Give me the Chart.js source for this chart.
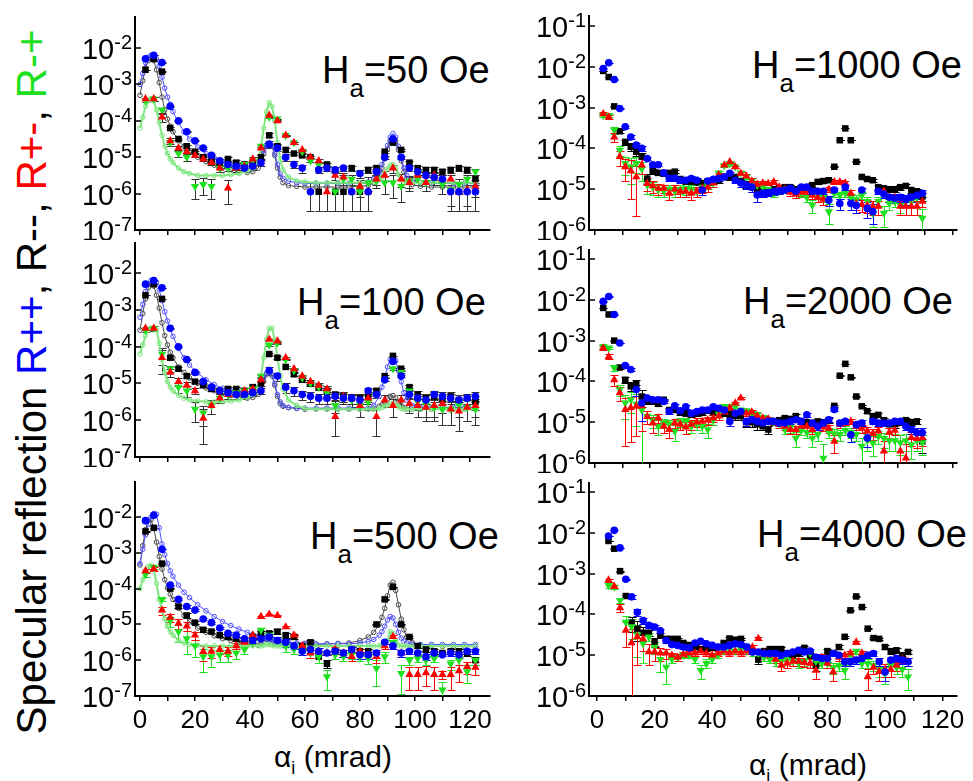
<!DOCTYPE html>
<html>
<head>
<meta charset="utf-8">
<title>Specular reflection</title>
<script src="https://cdn.jsdelivr.net/npm/chart.js@4.4.1/dist/chart.umd.min.js"></script>
<style>
  html, body { margin: 0; padding: 0; background: #fff; }
  body { position: relative; width: 973px; height: 781px; overflow: hidden;
         font-family: "Liberation Sans", Arial, Helvetica, sans-serif; color: #000; }
  canvas { position: absolute; }
  .field { position: absolute; font-size: 38px; line-height: 1; white-space: nowrap; }
  .field sub { font-size: 26px; vertical-align: -14px; line-height: 0; }
  .xtitle { position: absolute; font-size: 30px; line-height: 1; white-space: nowrap; transform: translate(-50%, -50%); }
  .xtitle sub { font-size: 18px; vertical-align: -7px; line-height: 0; }
  #ytitle { position: absolute; left: 32px; top: 382px; font-size: 42px; line-height: 1; white-space: nowrap;
            transform: translate(-50%, -50%) rotate(-90deg); }
  .pp { color: #0000ff; } .pm { color: #ff0000; } .mp { color: #1fe01f; }
</style>
</head>
<body>

<div id="ytitle">Specular reflection <span class="pp">R++</span>, R--, <span class="pm">R+-</span>, <span class="mp">R-+</span></div>

<div class="field" style="left:322px;top:51px">H<sub>a</sub>=50 Oe</div>
<div class="field" style="left:297px;top:283px">H<sub>a</sub>=100 Oe</div>
<div class="field" style="left:310px;top:517px">H<sub>a</sub>=500 Oe</div>
<div class="field" style="left:752px;top:46px">H<sub>a</sub>=1000 Oe</div>
<div class="field" style="left:743px;top:282px">H<sub>a</sub>=2000 Oe</div>
<div class="field" style="left:757px;top:515px">H<sub>a</sub>=4000 Oe</div>

<div class="xtitle" style="left:333px;top:757px">&alpha;<sub>i</sub> (mrad)</div>
<div class="xtitle" style="left:808px;top:765px">&alpha;<sub>i</sub> (mrad)</div>

<script>
// incidence angles (mrad)
const leftX = [2,5,8,11,14,17,20,23,26,29,32,35,38,41,44,47,50,53,56,59,62,65,68,71,74,77,80,83,86,89,92,95,98,101,104,107,110,113,116,119,122];
const fitX = [0,1,2,3,4,5,6,7,8,9,10,11,12,14,16,18,21,24,27,30,33,36,39,41,43,44,45,46,47,48,49,50,51,52,54,57,60,64,68,72,76,80,83,85,87,88,89,90,91,92,93,94,95,96,97,99,102,106,110,114,118,122];
const rightX = [3,5,7,9,11,13,15,17,19,21,23,25,27,29,31,33,35,37,39,41,43,45,47,49,51,53,55,57,59,61,63,65,67,69,71,73,75,77,79,81,83,85,87,89,91,93,95,97,99,101,103,105,107,109,111,113,115,117,119];
const lowRightX = [4,6,8,10,12,14,16,18,20,22,24,26,28,30,32,34,36,38,40,42,44,46,48,50,52,54,56,58,60,62,64,66,68,70,72,74,76,78,80,82,84,86,88,90,92,94,96,98,100,102,104,106,108];

const leftDecades = [1e-7, 1e-6, 1e-5, 1e-4, 1e-3, 1e-2];
const rightDecades = [1e-6, 1e-5, 1e-4, 1e-3, 1e-2, 1e-1];

// all reflectivities and errors below are log10 values

// Ha = 50 Oe
const pp50 = [-2.3,-2.2,-2.4,-3.6,-4.0,-4.3,-4.55,-4.75,-4.95,-5.1,-5.2,-5.25,-5.3,-5.25,-5.15,-4.65,-4.75,-5.0,-5.2,-5.3,-5.95,-5.35,-5.3,-5.35,-5.3,-5.95,-5.45,-5.95,-5.4,-5.0,-4.5,-5.0,-5.3,-5.4,-5.5,-5.55,-5.6,-5.95,-5.95,-5.95,-5.95];
const mm50 = [-2.6,-2.3,-2.65,-4.2,-4.5,-4.7,-4.85,-5.0,-5.1,-5.2,-5.05,-5.15,-5.2,-5.15,-5.0,-4.4,-4.7,-4.8,-4.9,-4.95,-5.0,-5.95,-5.2,-5.95,-5.95,-5.3,-5.95,-5.35,-5.3,-4.85,-4.6,-4.8,-5.15,-5.3,-5.35,-5.35,-5.4,-5.35,-5.3,-5.35,-5.6];
const pm50 = [-3.4,-3.4,-3.9,-4.55,-4.75,-4.85,-4.95,-5.05,-5.15,-5.3,-5.85,-5.3,-5.25,-5.05,-4.75,-3.85,-4.0,-4.4,-4.6,-4.8,-5.0,-5.1,-5.95,-5.5,-5.55,-5.95,-5.8,-5.95,-5.6,-5.5,-5.3,-5.6,-5.7,-5.5,-5.7,-5.5,-5.6,-5.6,-5.95,-5.9,-5.8];
const mp50 = [-3.45,-3.4,-3.7,-4.6,-4.9,-5.0,-5.8,-5.75,-5.8,-5.3,-5.3,-5.25,-5.2,-5.1,-4.7,-3.9,-3.95,-4.4,-4.6,-4.85,-5.1,-5.2,-5.3,-5.95,-5.6,-5.6,-5.95,-5.7,-5.65,-5.7,-5.7,-5.8,-5.65,-5.6,-5.7,-5.6,-5.75,-5.9,-5.75,-5.6,-5.4];
const err50 = [-4.5,-4.3,-4.5,-5.3,-5.6,-5.7,-6.05,-6.05,-6.05,-5.95,-6.05,-5.95,-5.95,-5.95,-5.9,-5.3,-5.5,-5.7,-5.85,-5.9,-6.1,-6.1,-6.1,-6.1,-6.1,-6.1,-6.1,-6.1,-6.1,-6.0,-5.9,-6.0,-6.1,-6.1,-6.1,-6.1,-6.1,-6.1,-6.1,-6.1,-6.1];
const fitMM50 = [-3.3,-2.9,-2.55,-2.35,-2.3,-2.35,-2.6,-2.95,-3.35,-3.7,-3.95,-4.15,-4.3,-4.55,-4.7,-4.85,-5.0,-5.12,-5.22,-5.3,-5.35,-5.4,-5.42,-5.4,-5.3,-5.15,-4.9,-4.68,-4.6,-4.7,-4.95,-5.3,-5.55,-5.7,-5.78,-5.8,-5.82,-5.82,-5.82,-5.82,-5.82,-5.8,-5.78,-5.7,-5.5,-5.3,-5.05,-4.78,-4.55,-4.45,-4.55,-4.8,-5.1,-5.4,-5.6,-5.75,-5.8,-5.82,-5.82,-5.82,-5.82,-5.82];
const fitPP50 = [-3.0,-2.7,-2.4,-2.25,-2.2,-2.2,-2.3,-2.5,-2.8,-3.1,-3.35,-3.55,-3.75,-4.05,-4.3,-4.5,-4.72,-4.9,-5.02,-5.12,-5.2,-5.25,-5.28,-5.25,-5.15,-5.0,-4.82,-4.66,-4.6,-4.68,-4.9,-5.2,-5.45,-5.58,-5.66,-5.7,-5.72,-5.72,-5.72,-5.72,-5.72,-5.7,-5.68,-5.6,-5.4,-5.2,-4.95,-4.68,-4.45,-4.35,-4.45,-4.7,-5.0,-5.3,-5.5,-5.65,-5.7,-5.72,-5.72,-5.72,-5.72,-5.72];
const fitMP50 = [-4.2,-3.9,-3.6,-3.45,-3.4,-3.45,-3.7,-4.05,-4.4,-4.7,-4.9,-5.05,-5.15,-5.3,-5.4,-5.45,-5.5,-5.5,-5.5,-5.5,-5.48,-5.45,-5.38,-5.3,-5.1,-4.75,-4.2,-3.75,-3.5,-3.6,-4.0,-4.6,-5.05,-5.35,-5.55,-5.65,-5.68,-5.7,-5.7,-5.7,-5.7,-5.7,-5.7,-5.68,-5.62,-5.55,-5.45,-5.32,-5.22,-5.2,-5.3,-5.48,-5.62,-5.68,-5.7,-5.7,-5.7,-5.7,-5.7,-5.7,-5.7,-5.7];

// Ha = 100 Oe
const pp100 = [-2.3,-2.2,-2.4,-3.5,-4.0,-4.35,-4.7,-4.95,-5.1,-5.2,-5.25,-5.3,-5.3,-5.25,-5.2,-4.65,-4.8,-5.1,-5.2,-5.3,-5.35,-5.4,-5.4,-5.35,-5.4,-5.4,-5.45,-5.2,-5.3,-4.9,-4.4,-4.8,-5.3,-5.4,-5.45,-5.3,-5.35,-5.4,-5.45,-5.4,-5.35];
const mm100 = [-2.6,-2.3,-2.7,-4.3,-4.6,-4.8,-4.95,-5.05,-5.15,-5.2,-5.15,-5.15,-5.2,-5.1,-5.0,-4.2,-4.3,-4.55,-4.75,-4.9,-5.0,-5.1,-5.2,-5.3,-5.35,-5.4,-5.4,-5.35,-5.2,-4.8,-4.25,-4.6,-5.1,-5.3,-5.4,-5.35,-5.4,-5.35,-5.45,-5.4,-5.5];
const pm100 = [-3.5,-3.5,-4.3,-4.7,-4.95,-5.05,-5.2,-5.95,-5.6,-5.4,-5.3,-5.3,-5.2,-5.15,-4.9,-3.8,-3.85,-4.3,-4.6,-4.8,-4.95,-5.05,-5.15,-5.9,-5.35,-5.4,-5.6,-5.4,-5.9,-5.45,-5.6,-5.45,-5.55,-5.6,-5.65,-5.6,-5.55,-5.7,-5.75,-5.65,-5.6];
const mp100 = [-3.55,-3.5,-4.2,-4.6,-5.1,-5.2,-5.7,-5.8,-5.6,-5.4,-5.3,-5.25,-5.2,-5.15,-4.8,-3.95,-3.9,-4.35,-4.65,-4.85,-5.0,-5.1,-5.25,-5.6,-5.4,-5.45,-5.6,-5.5,-5.3,-4.9,-4.6,-4.7,-5.2,-5.5,-5.6,-5.65,-5.7,-5.7,-5.6,-5.65,-5.7];
const err100 = [-4.5,-4.3,-4.5,-5.3,-5.6,-5.7,-5.95,-6.05,-6.0,-5.95,-5.95,-5.95,-5.95,-5.95,-5.9,-5.3,-5.4,-5.6,-5.75,-5.85,-5.9,-5.9,-5.9,-6.05,-5.9,-5.9,-5.9,-5.9,-6.05,-5.9,-5.9,-5.9,-5.9,-5.9,-5.9,-5.9,-5.9,-5.9,-5.9,-5.9,-5.9];
const fitMM100 = [-3.55,-3.1,-2.7,-2.4,-2.3,-2.35,-2.6,-2.95,-3.35,-3.7,-3.95,-4.15,-4.3,-4.55,-4.7,-4.85,-5.0,-5.12,-5.2,-5.27,-5.33,-5.37,-5.4,-5.38,-5.3,-5.15,-4.95,-4.75,-4.7,-4.8,-5.05,-5.35,-5.55,-5.62,-5.66,-5.68,-5.7,-5.7,-5.7,-5.7,-5.7,-5.7,-5.7,-5.68,-5.62,-5.58,-5.5,-5.42,-5.35,-5.33,-5.4,-5.5,-5.6,-5.66,-5.7,-5.7,-5.7,-5.7,-5.7,-5.7,-5.7,-5.7];
const fitPP100 = [-3.2,-2.85,-2.5,-2.3,-2.2,-2.18,-2.25,-2.45,-2.75,-3.05,-3.3,-3.52,-3.72,-4.05,-4.3,-4.5,-4.72,-4.9,-5.03,-5.13,-5.2,-5.25,-5.28,-5.25,-5.15,-5.0,-4.85,-4.72,-4.68,-4.75,-5.0,-5.3,-5.5,-5.6,-5.65,-5.67,-5.67,-5.67,-5.67,-5.67,-5.67,-5.67,-5.67,-5.6,-5.35,-5.1,-4.85,-4.55,-4.35,-4.28,-4.38,-4.65,-4.95,-5.25,-5.45,-5.6,-5.65,-5.65,-5.65,-5.65,-5.65,-5.65];
const fitMP100 = [-4.2,-3.95,-3.7,-3.55,-3.5,-3.48,-3.55,-3.9,-4.35,-4.7,-4.95,-5.1,-5.2,-5.32,-5.4,-5.45,-5.48,-5.5,-5.5,-5.5,-5.48,-5.45,-5.38,-5.3,-5.1,-4.8,-4.3,-3.8,-3.5,-3.5,-3.8,-4.3,-4.8,-5.15,-5.45,-5.6,-5.68,-5.7,-5.7,-5.7,-5.7,-5.7,-5.7,-5.7,-5.68,-5.65,-5.62,-5.58,-5.55,-5.55,-5.58,-5.63,-5.68,-5.7,-5.7,-5.7,-5.7,-5.7,-5.7,-5.7,-5.7,-5.7];

// Ha = 500 Oe
const pp500 = [-2.1,-1.95,-2.9,-3.9,-4.3,-4.5,-4.6,-4.85,-4.95,-5.1,-5.25,-5.3,-5.4,-5.45,-5.4,-5.35,-5.45,-5.5,-5.6,-5.75,-5.7,-5.75,-5.8,-5.75,-5.8,-5.7,-5.85,-5.85,-5.8,-5.5,-5.6,-5.8,-5.75,-5.8,-5.9,-5.8,-5.85,-5.8,-5.85,-5.75,-5.75];
const mm500 = [-2.4,-2.3,-3.3,-4.0,-4.5,-4.75,-4.95,-5.15,-5.2,-5.3,-5.35,-5.4,-5.45,-5.35,-5.25,-5.25,-5.2,-5.3,-5.35,-5.6,-5.5,-5.9,-6.1,-5.75,-5.8,-5.7,-5.75,-5.75,-5.0,-4.3,-3.95,-5.0,-5.35,-5.6,-5.7,-5.75,-5.8,-5.75,-5.75,-5.8,-6.0];
const pm500 = [-3.5,-3.45,-4.6,-4.8,-4.97,-5.05,-5.3,-5.76,-5.75,-5.7,-5.75,-5.6,-5.5,-5.3,-4.78,-4.72,-4.75,-5.07,-5.3,-5.6,-5.8,-5.75,-5.8,-5.7,-5.8,-5.9,-5.75,-5.85,-5.9,-5.6,-5.34,-5.8,-6.4,-6.4,-6.35,-6.4,-6.4,-6.4,-6.3,-6.18,-6.2];
const mp500 = [-3.6,-3.4,-4.3,-4.9,-5.2,-5.4,-5.6,-5.9,-5.9,-5.85,-5.85,-5.8,-5.7,-5.5,-5.16,-5.3,-5.45,-5.6,-5.7,-5.75,-5.8,-5.9,-6.46,-5.85,-5.9,-5.85,-5.9,-5.95,-6.23,-5.9,-5.5,-6.37,-6.0,-5.95,-6.0,-5.95,-6.83,-6.1,-6.0,-6.32,-6.0];
const err500 = [-4.4,-4.4,-5.2,-5.4,-5.5,-5.6,-5.9,-6.1,-6.2,-6.3,-6.3,-6.3,-6.3,-6.3,-6.0,-6.0,-6.0,-6.1,-6.3,-6.4,-6.4,-6.4,-6.7,-6.5,-6.5,-6.5,-6.5,-6.5,-6.4,-6.4,-6.4,-6.5,-6.6,-6.6,-6.6,-6.6,-7.0,-6.6,-6.6,-6.6,-6.6];
const fitMM500 = [-3.34,-2.8,-2.35,-2.1,-2.08,-2.3,-2.7,-3.1,-3.45,-3.75,-3.98,-4.15,-4.3,-4.55,-4.75,-4.93,-5.1,-5.22,-5.32,-5.4,-5.45,-5.5,-5.55,-5.57,-5.58,-5.55,-5.48,-5.42,-5.45,-5.52,-5.55,-5.55,-5.55,-5.55,-5.55,-5.55,-5.55,-5.55,-5.55,-5.53,-5.52,-5.45,-5.35,-5.22,-5.0,-4.8,-4.55,-4.2,-3.9,-3.82,-4.05,-4.45,-4.85,-5.15,-5.35,-5.5,-5.58,-5.6,-5.62,-5.62,-5.62,-5.62];
const fitPP500 = [-3.3,-2.9,-2.5,-2.2,-2.0,-1.9,-1.92,-2.3,-2.75,-3.05,-3.3,-3.5,-3.65,-3.9,-4.1,-4.25,-4.45,-4.62,-4.78,-4.92,-5.03,-5.13,-5.22,-5.28,-5.33,-5.36,-5.38,-5.4,-5.42,-5.44,-5.46,-5.47,-5.48,-5.49,-5.5,-5.52,-5.53,-5.54,-5.54,-5.54,-5.54,-5.52,-5.48,-5.42,-5.3,-5.2,-5.05,-4.88,-4.78,-4.82,-5.0,-5.22,-5.38,-5.47,-5.52,-5.55,-5.56,-5.56,-5.56,-5.56,-5.56,-5.56];
const fitMP500 = [-4.0,-3.75,-3.5,-3.38,-3.34,-3.45,-3.85,-4.3,-4.6,-4.85,-5.05,-5.2,-5.3,-5.45,-5.52,-5.56,-5.58,-5.6,-5.6,-5.6,-5.6,-5.6,-5.6,-5.6,-5.6,-5.6,-5.58,-5.56,-5.56,-5.58,-5.6,-5.6,-5.6,-5.6,-5.6,-5.6,-5.6,-5.6,-5.6,-5.6,-5.6,-5.6,-5.6,-5.6,-5.6,-5.58,-5.55,-5.45,-5.2,-5.25,-5.45,-5.57,-5.6,-5.6,-5.6,-5.6,-5.6,-5.6,-5.6,-5.6,-5.6,-5.6];

// Ha = 1000 Oe
const pp1000 = [-2.04,-1.9,-2.31,-3.02,-3.47,-3.72,-3.92,-4.0,-4.25,-4.4,-4.4,-4.6,-4.73,-4.73,-4.78,-4.78,-4.74,-4.78,-5.02,-4.8,-4.76,-4.74,-4.7,-4.61,-4.78,-4.85,-4.9,-4.95,-5.14,-5.1,-5.08,-5.06,-5.04,-5.02,-4.98,-5.05,-4.95,-4.95,-5.05,-5.05,-5.05,-5.27,-5.02,-5.35,-4.95,-5.35,-5.4,-5.02,-5.47,-5.55,-5.05,-5.12,-5.2,-5.22,-5.2,-5.25,-5.2,-5.15,-5.1];
const mm1000 = [-2.1,-2.25,-2.97,-3.58,-3.84,-3.96,-4.08,-4.2,-4.74,-4.55,-4.6,-4.62,-4.6,-4.57,-4.75,-4.8,-4.8,-4.82,-4.85,-4.82,-4.8,-4.78,-4.7,-4.72,-4.7,-4.8,-4.88,-4.95,-5.02,-5.05,-5.06,-5.0,-4.98,-4.95,-4.95,-5.0,-5.02,-4.95,-4.9,-4.82,-4.8,-4.78,-4.45,-3.8,-3.51,-3.8,-4.33,-4.7,-4.75,-4.78,-4.95,-4.98,-5.0,-5.0,-4.95,-4.92,-5.02,-5.05,-5.18];
const pm1000 = [-3.15,-3.23,-3.72,-4.2,-4.45,-4.55,-4.7,-4.41,-4.86,-4.92,-4.98,-4.98,-5.1,-5.0,-5.05,-5.05,-5.1,-5.05,-4.98,-4.95,-4.85,-4.65,-4.41,-4.33,-4.45,-4.61,-4.68,-4.8,-4.88,-4.85,-4.86,-4.82,-4.95,-5.0,-5.08,-5.12,-5.08,-5.05,-5.15,-5.2,-5.25,-5.0,-4.82,-4.82,-4.85,-5.1,-5.35,-5.38,-5.4,-5.42,-5.42,-5.05,-5.2,-5.2,-5.42,-5.42,-5.42,-5.42,-5.3];
const mp1000 = [-3.19,-3.19,-3.55,-4.04,-4.37,-4.45,-4.37,-4.5,-4.9,-4.95,-5.02,-5.05,-5.0,-5.05,-5.0,-5.02,-5.0,-5.05,-4.95,-4.9,-4.85,-4.6,-4.42,-4.37,-4.45,-4.6,-4.7,-4.8,-4.9,-4.95,-5.0,-5.1,-5.05,-5.0,-4.98,-5.05,-5.1,-5.2,-5.39,-5.15,-5.2,-5.55,-5.1,-5.15,-5.1,-5.2,-5.25,-5.15,-5.3,-5.59,-5.3,-5.59,-5.35,-5.3,-5.4,-5.3,-5.3,-5.2,-5.71];
const err1000 = [-4.2,-4.2,-4.3,-4.6,-4.7,-4.65,-4.75,-4.8,-5.3,-5.4,-5.5,-5.6,-5.6,-5.6,-5.6,-5.6,-5.6,-5.6,-5.6,-5.6,-5.6,-5.6,-5.6,-5.6,-5.6,-5.6,-5.6,-5.6,-5.6,-5.85,-5.85,-5.85,-5.85,-5.85,-5.85,-5.85,-5.85,-5.85,-5.85,-5.85,-5.85,-5.85,-5.85,-5.85,-5.85,-5.85,-5.85,-5.85,-5.85,-5.85,-5.85,-5.85,-5.85,-5.85,-5.85,-5.85,-5.85,-5.85,-5.85];

// Ha = 2000 Oe
const pp2000 = [-2.04,-1.92,-2.36,-3.06,-3.61,-3.71,-4.2,-4.53,-4.41,-4.45,-4.45,-4.49,-4.73,-4.6,-4.72,-4.62,-4.78,-4.74,-4.7,-4.7,-4.62,-4.66,-4.7,-4.98,-4.78,-4.74,-4.98,-4.94,-4.98,-5.02,-4.98,-4.98,-5.02,-5.02,-4.98,-4.94,-4.98,-4.82,-5.02,-5.1,-5.02,-4.94,-4.69,-5.02,-4.98,-5.31,-5.06,-5.02,-5.39,-4.98,-5.02,-5.02,-5.02,-4.98,-4.98,-5.1,-5.18,-5.26,-5.26];
const mm2000 = [-2.2,-2.36,-3.0,-3.66,-3.96,-4.12,-4.06,-4.37,-4.49,-4.5,-4.55,-4.45,-4.7,-4.7,-4.75,-4.78,-4.8,-4.78,-4.75,-4.72,-4.75,-4.7,-4.78,-4.8,-4.85,-4.85,-5.0,-5.0,-5.05,-5.1,-5.18,-5.0,-4.95,-4.9,-4.92,-4.85,-4.98,-5.0,-5.02,-4.98,-5.0,-4.95,-4.6,-3.86,-3.57,-3.9,-4.37,-4.61,-4.73,-4.85,-4.82,-4.95,-5.05,-5.05,-5.0,-4.95,-5.0,-4.98,-5.47];
const pm2000 = [-3.18,-3.39,-3.96,-4.28,-4.69,-4.65,-4.61,-4.6,-4.86,-5.02,-4.9,-5.1,-5.18,-5.02,-5.05,-5.12,-5.05,-5.0,-4.98,-4.95,-4.9,-4.85,-4.75,-4.65,-4.53,-4.41,-4.78,-4.75,-4.85,-4.9,-4.92,-5.0,-5.05,-5.1,-5.18,-5.18,-5.1,-5.1,-5.18,-5.1,-5.12,-5.15,-5.47,-5.05,-5.0,-4.98,-5.1,-5.15,-5.22,-5.28,-5.22,-5.71,-5.25,-5.2,-5.71,-5.88,-5.38,-5.4,-5.38];
const mp2000 = [-3.14,-3.18,-3.67,-4.2,-4.53,-4.45,-4.55,-4.7,-4.85,-4.95,-5.1,-5.02,-5.05,-5.22,-5.0,-4.98,-5.1,-5.05,-5.1,-5.18,-4.95,-4.8,-4.61,-4.62,-4.6,-4.7,-4.72,-4.8,-4.82,-4.88,-4.95,-5.0,-5.05,-5.18,-5.15,-5.39,-5.2,-5.25,-5.39,-5.3,-5.88,-5.25,-5.28,-5.3,-5.2,-5.25,-5.3,-5.59,-5.45,-5.51,-5.35,-5.4,-5.45,-5.45,-5.5,-5.45,-5.55,-5.45,-5.5];
const err2000 = [-4.2,-4.3,-4.5,-4.7,-4.75,-4.72,-4.7,-4.72,-5.3,-5.4,-5.5,-5.6,-5.6,-5.6,-5.6,-5.6,-5.6,-5.6,-5.6,-5.6,-5.6,-5.6,-5.6,-5.6,-5.6,-5.6,-5.6,-5.6,-5.6,-5.8,-5.8,-5.8,-5.8,-5.8,-5.8,-5.8,-5.8,-5.8,-5.8,-5.8,-5.8,-5.8,-5.8,-5.8,-5.8,-5.8,-5.8,-5.8,-5.8,-5.8,-5.8,-5.8,-5.8,-5.8,-5.8,-5.8,-5.8,-5.8,-5.8];

// Ha = 4000 Oe
const pp4000 = [-2.08,-1.94,-2.37,-3.14,-3.57,-3.95,-4.15,-4.27,-4.31,-4.4,-4.64,-4.74,-4.76,-4.8,-4.82,-4.7,-4.66,-4.72,-4.76,-4.8,-4.8,-4.76,-4.72,-4.74,-4.8,-4.92,-4.92,-4.96,-4.96,-4.96,-5.0,-4.96,-4.92,-4.88,-4.92,-4.9,-5.05,-5.08,-5.08,-4.96,-5.0,-5.16,-5.16,-5.12,-5.08,-5.0,-4.96,-5.16,-5.41,-5.12,-5.08,-5.12,-5.16];
const mm4000 = [-2.2,-2.39,-2.94,-3.55,-4.2,-4.35,-4.45,-4.45,-4.68,-4.51,-4.6,-4.6,-4.6,-4.7,-4.75,-4.8,-4.85,-4.85,-4.82,-4.8,-4.7,-4.59,-4.62,-4.6,-4.8,-4.9,-5.11,-4.9,-4.85,-4.85,-4.85,-4.95,-5.0,-4.95,-4.82,-5.0,-5.25,-5.1,-4.9,-4.95,-4.8,-4.55,-3.9,-3.56,-3.82,-4.35,-4.58,-4.6,-4.8,-4.9,-4.88,-5.0,-4.92];
const pm4000 = [-3.16,-3.31,-3.84,-4.39,-4.7,-4.55,-4.6,-4.92,-4.92,-4.95,-4.95,-5.0,-5.05,-4.98,-4.95,-4.95,-4.9,-4.95,-5.0,-4.95,-4.9,-4.95,-4.9,-4.95,-4.9,-4.8,-4.59,-4.95,-5.0,-5.1,-5.25,-5.2,-5.15,-5.15,-5.18,-5.2,-5.37,-5.05,-5.2,-5.41,-5.05,-5.0,-4.95,-4.68,-4.95,-5.53,-5.3,-5.4,-5.35,-5.35,-5.25,-5.1,-5.15];
const mp4000 = [-3.29,-3.33,-3.66,-4.19,-4.3,-4.5,-4.72,-4.55,-4.8,-5.1,-5.29,-5.1,-5.05,-5.0,-5.0,-5.1,-5.37,-5.2,-5.1,-5.0,-4.9,-4.85,-4.9,-4.85,-4.9,-4.95,-4.95,-5.05,-5.1,-5.15,-5.15,-5.12,-5.15,-5.2,-5.15,-4.95,-5.15,-5.2,-5.2,-5.3,-5.25,-5.37,-5.0,-4.9,-5.2,-5.2,-5.25,-5.35,-5.45,-5.25,-5.3,-5.35,-5.53];
const err4000 = [-4.2,-4.3,-4.5,-4.6,-4.6,-4.65,-4.9,-5.2,-5.3,-5.4,-5.5,-5.8,-5.8,-5.8,-5.8,-5.8,-5.8,-5.8,-5.8,-5.8,-5.8,-5.8,-5.8,-5.8,-5.8,-5.8,-5.8,-5.8,-5.8,-5.8,-5.8,-5.8,-5.8,-5.8,-5.8,-5.8,-5.8,-5.8,-5.8,-5.8,-5.8,-5.8,-5.8,-5.8,-5.8,-5.8,-5.8,-5.8,-5.8,-5.8,-5.8,-5.8,-5.8];

const FONT = '"Liberation Sans", Arial, Helvetica, sans-serif';
Chart.defaults.font.family = FONT;
Chart.defaults.color = '#000';

const STYLE = {
  pp: { color: '#0000ff', pointStyle: 'circle',   radius: 3.8, rotation: 0 },
  mm: { color: '#000000', pointStyle: 'rect',     radius: 4.6, rotation: 0 },
  pm: { color: '#ff0000', pointStyle: 'triangle', radius: 4.8, rotation: 0 },
  mp: { color: '#1fe01f', pointStyle: 'triangle', radius: 4.8, rotation: 180 }
};
const FIT_STYLE = {
  mm: { color: '#4a4a4a', width: 1 },
  pp: { color: '#5050ff', width: 1 },
  mp: { color: '#80e680', width: 2 }
};

const fromLog = arr => arr.map(v => Math.pow(10, v));

function measured(key, xs, lg, lgErr, errColor, order) {
  const st = STYLE[key];
  const ys = fromLog(lg);
  return {
    data: xs.map((x, i) => ({ x: x, y: ys[i] })),
    sigma: fromLog(lgErr),
    errorColor: errColor || st.color,
    showLine: false,
    pointStyle: st.pointStyle,
    pointRadius: st.radius,
    pointRotation: st.rotation,
    pointBackgroundColor: st.color,
    pointBorderWidth: 0,
    order: order
  };
}

function fitted(key, xs, lg, order) {
  const st = FIT_STYLE[key];
  const ys = fromLog(lg);
  return {
    data: xs.map((x, i) => ({ x: x, y: ys[i] })),
    showLine: true,
    borderColor: st.color,
    borderWidth: st.width,
    pointStyle: 'circle',
    pointRadius: 2.3,
    pointBorderColor: st.color,
    pointBorderWidth: 1,
    pointBackgroundColor: 'rgba(255,255,255,0)',
    order: order
  };
}

// vertical error bars, drawn under the markers
const errorBars = {
  id: 'errorBars',
  beforeDatasetsDraw(chart) {
    const { ctx, chartArea: a, scales: { x, y } } = chart;
    const sets = chart.data.datasets.filter(d => d.sigma).sort((p, q) => q.order - p.order);
    ctx.save();
    ctx.beginPath();
    ctx.rect(a.left, a.top, a.right - a.left, a.bottom - a.top);
    ctx.clip();
    ctx.lineWidth = 1;
    sets.forEach(d => {
      ctx.strokeStyle = d.errorColor;
      ctx.beginPath();
      d.data.forEach((p, i) => {
        const s = d.sigma[i];
        const px = Math.round(x.getPixelForValue(p.x)) + 0.5;
        const top = Math.round(y.getPixelForValue(p.y + s)) + 0.5;
        const low = p.y - s;
        const bottom = low > y.min ? Math.round(y.getPixelForValue(low)) + 0.5 : a.bottom;
        ctx.moveTo(px, top); ctx.lineTo(px, bottom);
        ctx.moveTo(px - 4, top); ctx.lineTo(px + 4, top);
        if (low > y.min) { ctx.moveTo(px - 4, bottom); ctx.lineTo(px + 4, bottom); }
      });
      ctx.stroke();
    });
    ctx.restore();
  }
};

// 10^n labels and inward ticks on the log axis
const decadeLabels = {
  id: 'decadeLabels',
  afterDraw(chart) {
    const { ctx, chartArea: a, scales: { y } } = chart;
    ctx.save();
    ctx.strokeStyle = '#000';
    ctx.fillStyle = '#000';
    ctx.lineWidth = 1.5;
    ctx.textAlign = 'right';
    ctx.textBaseline = 'alphabetic';
    y.ticks.forEach(t => {
      const py = Math.round(y.getPixelForValue(t.value));
      ctx.beginPath();
      ctx.moveTo(a.left, py);
      ctx.lineTo(a.left + 6, py);
      ctx.stroke();
      const exp = String(Math.round(Math.log10(t.value)));
      const right = a.left - 3;
      ctx.font = '20px ' + FONT;
      const ew = ctx.measureText(exp).width;
      ctx.fillText(exp, right, py + 1);
      ctx.font = '29px ' + FONT;
      ctx.fillText('10', right - ew, py + 11);
    });
    ctx.restore();
  }
};

// angle labels every 20 mrad under the bottom panels
const angleLabels = {
  id: 'angleLabels',
  afterDraw(chart) {
    const { ctx, chartArea: a, scales: { x } } = chart;
    ctx.save();
    ctx.fillStyle = '#000';
    ctx.font = '26px ' + FONT;
    ctx.textAlign = 'center';
    ctx.textBaseline = 'alphabetic';
    x.ticks.forEach(t => {
      if (t.value % 20 !== 0) return;
      ctx.fillText(String(t.value), x.getPixelForValue(t.value), a.bottom + 32);
    });
    ctx.restore();
  }
};

const panels = [
  { box: [60, 0, 440, 240],   area: [135, 17, 490, 230],  xRange: [-1.82, 127.3], yMax: 0.0708, decades: leftDecades,
    xs: leftX, pp: pp50, mm: mm50, pm: pm50, mp: mp50, err: err50, errColor: '#333',
    fits: { mm: fitMM50, pp: fitPP50, mp: fitMP50 }, tickLabels: false },
  { box: [60, 235, 440, 232], area: [135, 243, 490, 457], xRange: [-1.82, 127.3], yMax: 0.066, decades: leftDecades,
    xs: leftX, pp: pp100, mm: mm100, pm: pm100, mp: mp100, err: err100, errColor: '#333',
    fits: { mm: fitMM100, pp: fitPP100, mp: fitMP100 }, tickLabels: false },
  { box: [60, 470, 440, 266], area: [135, 482, 490, 696], xRange: [-1.82, 127.3], yMax: 0.0955, decades: leftDecades,
    xs: leftX, pp: pp500, mm: mm500, pm: pm500, mp: mp500, err: err500, errColor: null,
    fits: { mm: fitMM500, pp: fitPP500, mp: fitMP500 }, tickLabels: true },
  { box: [505, 0, 465, 240],   area: [589, 16, 957, 230],  xRange: [-2.18, 131.6], yMax: 0.176, decades: rightDecades,
    xs: rightX, pp: pp1000, mm: mm1000, pm: pm1000, mp: mp1000, err: err1000, errColor: null,
    fits: null, tickLabels: false },
  { box: [505, 240, 465, 233], area: [589, 250, 957, 463], xRange: [-2.18, 131.6], yMax: 0.166, decades: rightDecades,
    xs: rightX, pp: pp2000, mm: mm2000, pm: pm2000, mp: mp2000, err: err2000, errColor: null,
    fits: null, tickLabels: false },
  { box: [505, 470, 465, 266], area: [589, 483, 957, 696], xRange: [-2.78, 125], yMax: 0.166, decades: rightDecades,
    xs: lowRightX, pp: pp4000, mm: mm4000, pm: pm4000, mp: mp4000, err: err4000, errColor: null,
    fits: null, tickLabels: true }
];

panels.forEach(p => {
  const [bl, bt, bw, bh] = p.box;
  const [al, at, ar, ab] = p.area;
  const cv = document.createElement('canvas');
  cv.width = bw; cv.height = bh;
  cv.style.left = bl + 'px'; cv.style.top = bt + 'px';
  cv.style.width = bw + 'px'; cv.style.height = bh + 'px';
  document.body.appendChild(cv);

  const datasets = [
    measured('pp', p.xs, p.pp, p.err, p.errColor, 1),
    measured('pm', p.xs, p.pm, p.err, p.errColor, 2),
    measured('mp', p.xs, p.mp, p.err, p.errColor, 3),
    measured('mm', p.xs, p.mm, p.err, p.errColor, 4)
  ];
  if (p.fits) {
    datasets.push(fitted('mp', fitX, p.fits.mp, 5));
    datasets.push(fitted('pp', fitX, p.fits.pp, 6));
    datasets.push(fitted('mm', fitX, p.fits.mm, 7));
  }

  const extra = p.tickLabels ? [errorBars, decadeLabels, angleLabels] : [errorBars, decadeLabels];

  new Chart(cv, {
    type: 'scatter',
    data: { datasets: datasets },
    options: {
      responsive: false,
      animation: false,
      events: [],
      layout: { padding: { left: 0, top: at - bt, right: bl + bw - ar, bottom: 0 } },
      plugins: { legend: { display: false }, tooltip: { enabled: false } },
      scales: {
        x: {
          type: 'linear',
          min: p.xRange[0],
          max: p.xRange[1],
          afterFit: s => { s.height = bt + bh - ab; },
          border: { display: true, color: '#000', width: 2 },
          grid: { display: true, drawOnChartArea: false, drawTicks: true, tickLength: 5, color: '#000', lineWidth: 1.5 },
          ticks: { display: false, stepSize: 10, includeBounds: false, autoSkip: false }
        },
        y: {
          type: 'logarithmic',
          min: p.decades[0],
          max: p.yMax,
          afterFit: s => { s.width = al - bl; },
          afterBuildTicks: s => { s.ticks = p.decades.map(v => ({ value: v })); },
          border: { display: true, color: '#000', width: 2 },
          grid: { display: false },
          ticks: { display: false }
        }
      }
    },
    plugins: extra
  });
});
</script>
</body>
</html>
